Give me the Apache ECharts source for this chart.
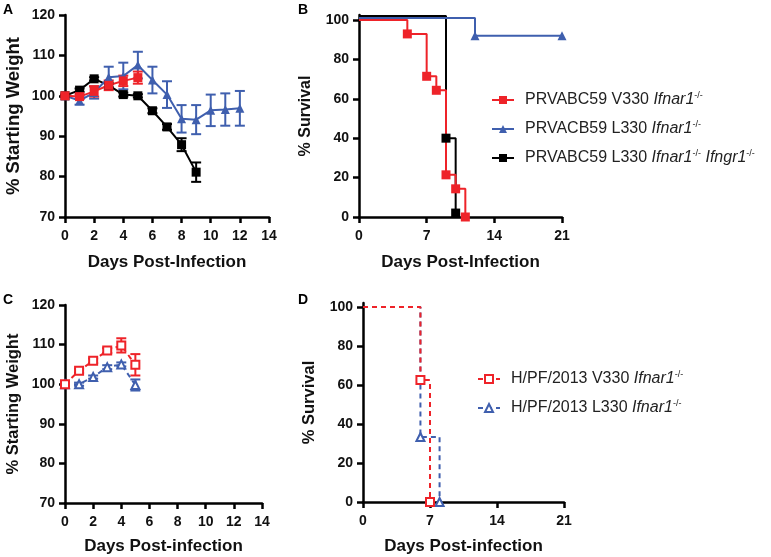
<!DOCTYPE html>
<html>
<head>
<meta charset="utf-8">
<script src="https://cdn.jsdelivr.net/npm/echarts@6/dist/echarts.min.js"></script>
<style>
  html, body { margin: 0; padding: 0; background: #fff; }
  #main { width: 771px; height: 557px; }
</style>
</head>
<body>
<div id="main"></div>
<script>
// ---- data ----
// A: % starting weight, PRVABC59 strains (mean, error)
var daysA = [0, 1, 2, 3, 4, 5, 6, 7, 8, 9, 10, 11, 12];
var wtRedA = [100, 99.8, 101.1, 102.6, 103.7, 104.5];
var errRedA = [0.3, 0.6, 1.3, 1.2, 1.3, 1.5];
var wtBlueA = [100, 98.8, 100.8, 104.6, 104.9, 107.6, 103.9, 100.3, 94.3, 94.1, 96.4, 96.6, 96.9];
var errBlueA = [0, 1.0, 1.5, 2.6, 3.3, 3.3, 3.3, 3.3, 3.4, 3.6, 3.9, 4.0, 4.3];
var wtBlackA = [100, 101.4, 104.2, 102.6, 100.3, 100, 96.3, 92.3, 87.9, 81.1];
var errBlackA = [0, 0.4, 0.4, 0.5, 0.5, 0.4, 0.6, 0.7, 1.6, 2.4];

// B: % survival (Kaplan-Meier steps)
var kmDaysRedB = [0, 5, 7, 8, 9, 10, 11];
var kmRedB = [100, 92.9, 71.4, 64.3, 21.4, 14.3, 0];
var kmDaysBlueB = [0, 12, 21];
var kmBlueB = [101, 92, 92];
var kmDaysBlackB = [0, 9, 10];
var kmBlackB = [102, 40, 2];

// C: % starting weight, H/PF/2013 strains
var daysC = [0, 1, 2, 3, 4, 5];
var wtRedC = [100, 103.4, 105.9, 108.5, 109.8, 104.9];
var errRedC = [0.3, 0.5, 0.6, 0.6, 1.8, 2.7];
var wtBlueC = [100, 100, 101.8, 104.3, 105, 99.8];
var errBlueC = [0, 0.4, 0.4, 0.5, 0.5, 1.4];

// D: % survival
var kmDaysRedD = [0, 6, 7];
var kmRedD = [100, 62.5, 0];
var kmDaysBlueD = [0, 6, 8];
var kmBlueD = [100, 33.3, 0];

var namesB = ['PRVABC59 V330 Ifnar1', 'PRVACB59 L330 Ifnar1', 'PRVABC59 L330 Ifnar1 Ifngr1'];
var namesD = ['H/PF/2013 V330 Ifnar1', 'H/PF/2013 L330 Ifnar1'];

var RED = '#ee2329';
var BLUE = '#3f5fae';
var BLACK = '#000000';
var FONT = 'Liberation Sans';

function pairs(xs, ys) {
  return ys.map(function (y, i) { return [xs[i], y]; });
}

// first KM point has no marker
function kmData(xs, ys) {
  return ys.map(function (y, i) {
    var item = { value: [xs[i], y] };
    if (i === 0) item.symbol = 'none';
    return item;
  });
}

function errSeries(idx, xs, ys, es, color) {
  return {
    type: 'custom',
    xAxisIndex: idx,
    yAxisIndex: idx,
    silent: true,
    z: 1,
    encode: { x: 0, y: 1 },
    data: ys.map(function (y, i) { return [xs[i], y, es[i]]; }),
    renderItem: function (params, api) {
      var x = api.value(0), y = api.value(1), e = api.value(2);
      if (!e) return { type: 'group', children: [] };
      var hi = api.coord([x, y + e]);
      var lo = api.coord([x, y - e]);
      var w = 5;
      var st = { stroke: color, lineWidth: 2 };
      return {
        type: 'group',
        children: [
          { type: 'line', shape: { x1: hi[0], y1: hi[1], x2: lo[0], y2: lo[1] }, style: st },
          { type: 'line', shape: { x1: hi[0] - w, y1: hi[1], x2: hi[0] + w, y2: hi[1] }, style: st },
          { type: 'line', shape: { x1: lo[0] - w, y1: lo[1], x2: lo[0] + w, y2: lo[1] }, style: st }
        ]
      };
    }
  };
}

function weightLine(idx, name, data, color, symbol, open) {
  return {
    name: name,
    type: 'line',
    xAxisIndex: idx,
    yAxisIndex: idx,
    data: data,
    symbol: symbol,
    symbolSize: open ? 8 : 9,
    showAllSymbol: true,
    clip: false,
    z: 3,
    lineStyle: { color: color, width: 2, type: open ? [5, 4] : 'solid' },
    itemStyle: open ? { color: '#fff', borderColor: color, borderWidth: 2 } : { color: color }
  };
}

function kmLine(idx, name, data, color, symbol, open) {
  var s = weightLine(idx, name, data, color, symbol, open);
  s.step = 'end';
  return s;
}

function axisBase(gridIndex) {
  return {
    type: 'value',
    gridIndex: gridIndex,
    splitLine: { show: false },
    axisLine: { show: true, onZero: false, lineStyle: { color: '#000', width: 2.5 } },
    axisTick: { show: true, length: 6, lineStyle: { color: '#000', width: 2.5 } },
    axisLabel: { color: '#111', fontSize: 14, fontWeight: 'bold', fontFamily: FONT },
    nameLocation: 'middle',
    nameTextStyle: { color: '#111', fontSize: 17, fontWeight: 'bold', fontFamily: FONT }
  };
}

function xAx(gridIndex, max, interval, name, gap) {
  var a = axisBase(gridIndex);
  a.min = 0; a.max = max; a.interval = interval;
  a.name = name; a.nameGap = gap;
  a.axisLabel.margin = 12;
  return a;
}

function yAx(gridIndex, min, max, interval, name, gap, size, ticks) {
  var a = axisBase(gridIndex);
  a.min = min; a.max = max; a.interval = interval;
  a.name = name; a.nameGap = gap;
  a.nameTextStyle.fontSize = size;
  a.axisLabel.margin = 10;
  if (ticks) {
    a.axisLabel.customValues = ticks;
    a.axisTick.customValues = ticks;
  }
  return a;
}

var richText = {
  t: { fontSize: 16, fontFamily: FONT, color: '#222', lineHeight: 18 },
  i: { fontSize: 16, fontFamily: FONT, fontStyle: 'italic', color: '#222', lineHeight: 18 },
  s: { fontSize: 9, fontFamily: FONT, color: '#222', verticalAlign: 'top' }
};

function legendLabel(name) {
  var parts = name.split(' ');
  var out = '{t|' + parts[0] + ' ' + parts[1] + ' }';
  for (var k = 2; k < parts.length; k++) {
    out += '{i|' + parts[k] + '}{s|-/-}' + (k < parts.length - 1 ? '{t| }' : '');
  }
  return out;
}

function legendBox(names, left, top) {
  return {
    data: names,
    orient: 'vertical',
    left: left,
    top: top,
    itemWidth: 22,
    itemHeight: 10,
    itemGap: 12,
    selectedMode: false,
    formatter: legendLabel,
    textStyle: { fontSize: 16, fontFamily: FONT, color: '#222', padding: [0, 0, 0, 6], rich: richText }
  };
}

var chart = echarts.init(document.getElementById('main'));

var option = {
  animation: false,
  backgroundColor: '#fff',
  grid: [
    { left: 65, top: 15, width: 204, height: 202 },
    { left: 359, top: 15, width: 203, height: 202 },
    { left: 65, top: 305, width: 197, height: 198 },
    { left: 363, top: 303, width: 201, height: 199 }
  ],
  xAxis: [
    xAx(0, 14, 2, 'Days Post-Infection', 37),
    xAx(1, 21, 7, 'Days Post-Infection', 37),
    xAx(2, 14, 2, 'Days Post-infection', 35),
    xAx(3, 21, 7, 'Days Post-infection', 36)
  ],
  yAxis: [
    yAx(0, 70, 120, 10, '% Starting Weight', 42, 18.5),
    yAx(1, 0, 102.5, 20, '% Survival', 45, 16, [0, 20, 40, 60, 80, 100]),
    yAx(2, 70, 120, 10, '% Starting Weight', 43, 16.5),
    yAx(3, 0, 102, 20, '% Survival', 45, 16.5, [0, 20, 40, 60, 80, 100])
  ],
  legend: [
    legendBox(namesB, 486, 86),
    legendBox(namesD, 472, 365)
  ],
  graphic: [
    { type: 'text', left: 3, top: 3, style: { text: 'A', font: 'bold 14px ' + FONT, fill: '#000' } },
    { type: 'text', left: 298, top: 3, style: { text: 'B', font: 'bold 14px ' + FONT, fill: '#000' } },
    { type: 'text', left: 3, top: 293, style: { text: 'C', font: 'bold 14px ' + FONT, fill: '#000' } },
    { type: 'text', left: 298, top: 293, style: { text: 'D', font: 'bold 14px ' + FONT, fill: '#000' } }
  ],
  series: [
    // A
    errSeries(0, daysA, wtBlackA, errBlackA, BLACK),
    errSeries(0, daysA, wtBlueA, errBlueA, BLUE),
    errSeries(0, daysA, wtRedA, errRedA, RED),
    weightLine(0, 'A black', pairs(daysA, wtBlackA), BLACK, 'rect', false),
    weightLine(0, 'A blue', pairs(daysA, wtBlueA), BLUE, 'triangle', false),
    weightLine(0, 'A red', pairs(daysA, wtRedA), RED, 'rect', false),
    // B
    kmLine(1, namesB[2], kmData(kmDaysBlackB, kmBlackB), BLACK, 'rect', false),
    kmLine(1, namesB[1], kmData(kmDaysBlueB, kmBlueB), BLUE, 'triangle', false),
    kmLine(1, namesB[0], kmData(kmDaysRedB, kmRedB), RED, 'rect', false),
    // C
    errSeries(2, daysC, wtBlueC, errBlueC, BLUE),
    errSeries(2, daysC, wtRedC, errRedC, RED),
    weightLine(2, 'C blue', pairs(daysC, wtBlueC), BLUE, 'triangle', true),
    weightLine(2, 'C red', pairs(daysC, wtRedC), RED, 'rect', true),
    // D
    kmLine(3, namesD[1], kmData(kmDaysBlueD, kmBlueD), BLUE, 'triangle', true),
    kmLine(3, namesD[0], kmData(kmDaysRedD, kmRedD), RED, 'rect', true)
  ]
};

chart.setOption(option);
</script>
</body>
</html>
